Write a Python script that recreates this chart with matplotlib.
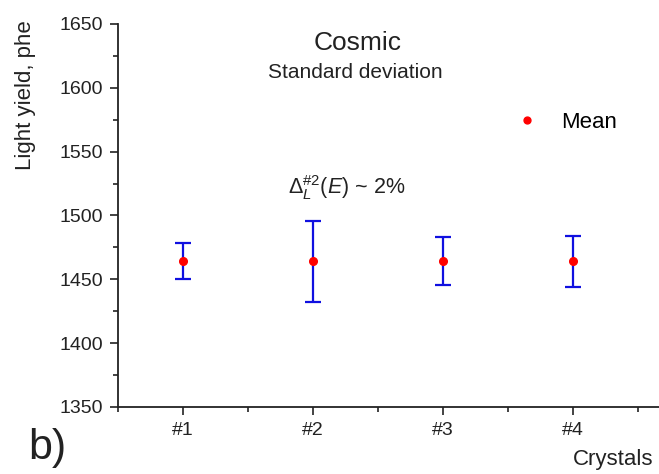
import numpy as np
import matplotlib.pyplot as plt
from matplotlib.ticker import MultipleLocator

plt.rcParams['font.family'] = ['Liberation Sans', 'DejaVu Sans']
plt.rcParams['mathtext.fontset'] = 'custom'
plt.rcParams['mathtext.rm'] = 'Liberation Sans'
plt.rcParams['mathtext.it'] = 'Liberation Sans:italic'

# valori
crystals = ["#1", "#2", "#3", "#4"]
mean_ly = [1464.5, 1464.2, 1464.1, 1464.1]
std_ly = [14.1, 31.6, 18.7, 20.0]

fig = plt.figure(figsize=(6.59, 4.74), dpi=100)
ax = fig.add_axes([118 / 659, 1 - 407 / 474, (659 - 118) / 659, (407 - 24) / 474])

x = np.arange(1, len(crystals) + 1)
ax.errorbar(x, mean_ly, yerr=std_ly, fmt='none', ecolor='#1010e0',
            elinewidth=1.6, capsize=5.5, capthick=1.6, zorder=2)
ax.plot(x, mean_ly, 'o', color='red', markersize=5.5, zorder=3, label='Mean')

ax.set_xlim(0.5, 4.66)
ax.set_ylim(1350, 1650)
ax.set_xticks(x)
ax.set_xticklabels(crystals)
ax.xaxis.set_minor_locator(MultipleLocator(0.5))
ax.yaxis.set_major_locator(MultipleLocator(50))
ax.yaxis.set_minor_locator(MultipleLocator(25))

for s in ['top', 'right']:
    ax.spines[s].set_visible(False)
for s in ['left', 'bottom']:
    ax.spines[s].set_linewidth(1.3)
    ax.spines[s].set_color('#222222')

ax.tick_params(axis='both', which='major', direction='out', length=6, width=1.2,
               labelsize=14, colors='#222222')
ax.tick_params(axis='both', which='minor', direction='out', length=3.5, width=1.2,
               colors='#222222')
ax.tick_params(axis='x', pad=5)
ax.tick_params(axis='y', pad=5)

ax.set_ylabel("Light yield, phe", fontsize=16, color='#222222')
ax.yaxis.set_label_coords(-0.152, 0.815)

fig.text(358 / 659, 1 - 43 / 474, "Cosmic", fontsize=19, ha='center', va='center', color='#222222')
fig.text(355 / 659, 1 - 73 / 474, "Standard deviation", fontsize=15, ha='center', va='center', color='#222222')
fig.text(288 / 659, 1 - 188 / 474, r"$\Delta_L^{\#2}(E)$ ~ 2%", fontsize=15.5, ha='left', va='center', color='#222222')
fig.text(653 / 659, 1 - 459 / 474, "Crystals", fontsize=16, ha='right', va='center', color='#222222')
fig.text(28 / 659, 1 - 448 / 474, "b)", fontsize=31, ha='left', va='center', color='#222222')

ax.legend(loc='center left', bbox_to_anchor=(0.695, 0.743), frameon=False, fontsize=16,
          handletextpad=0.9, markerscale=0.9, handlelength=1.2)

plt.savefig("out.png", dpi=100)
